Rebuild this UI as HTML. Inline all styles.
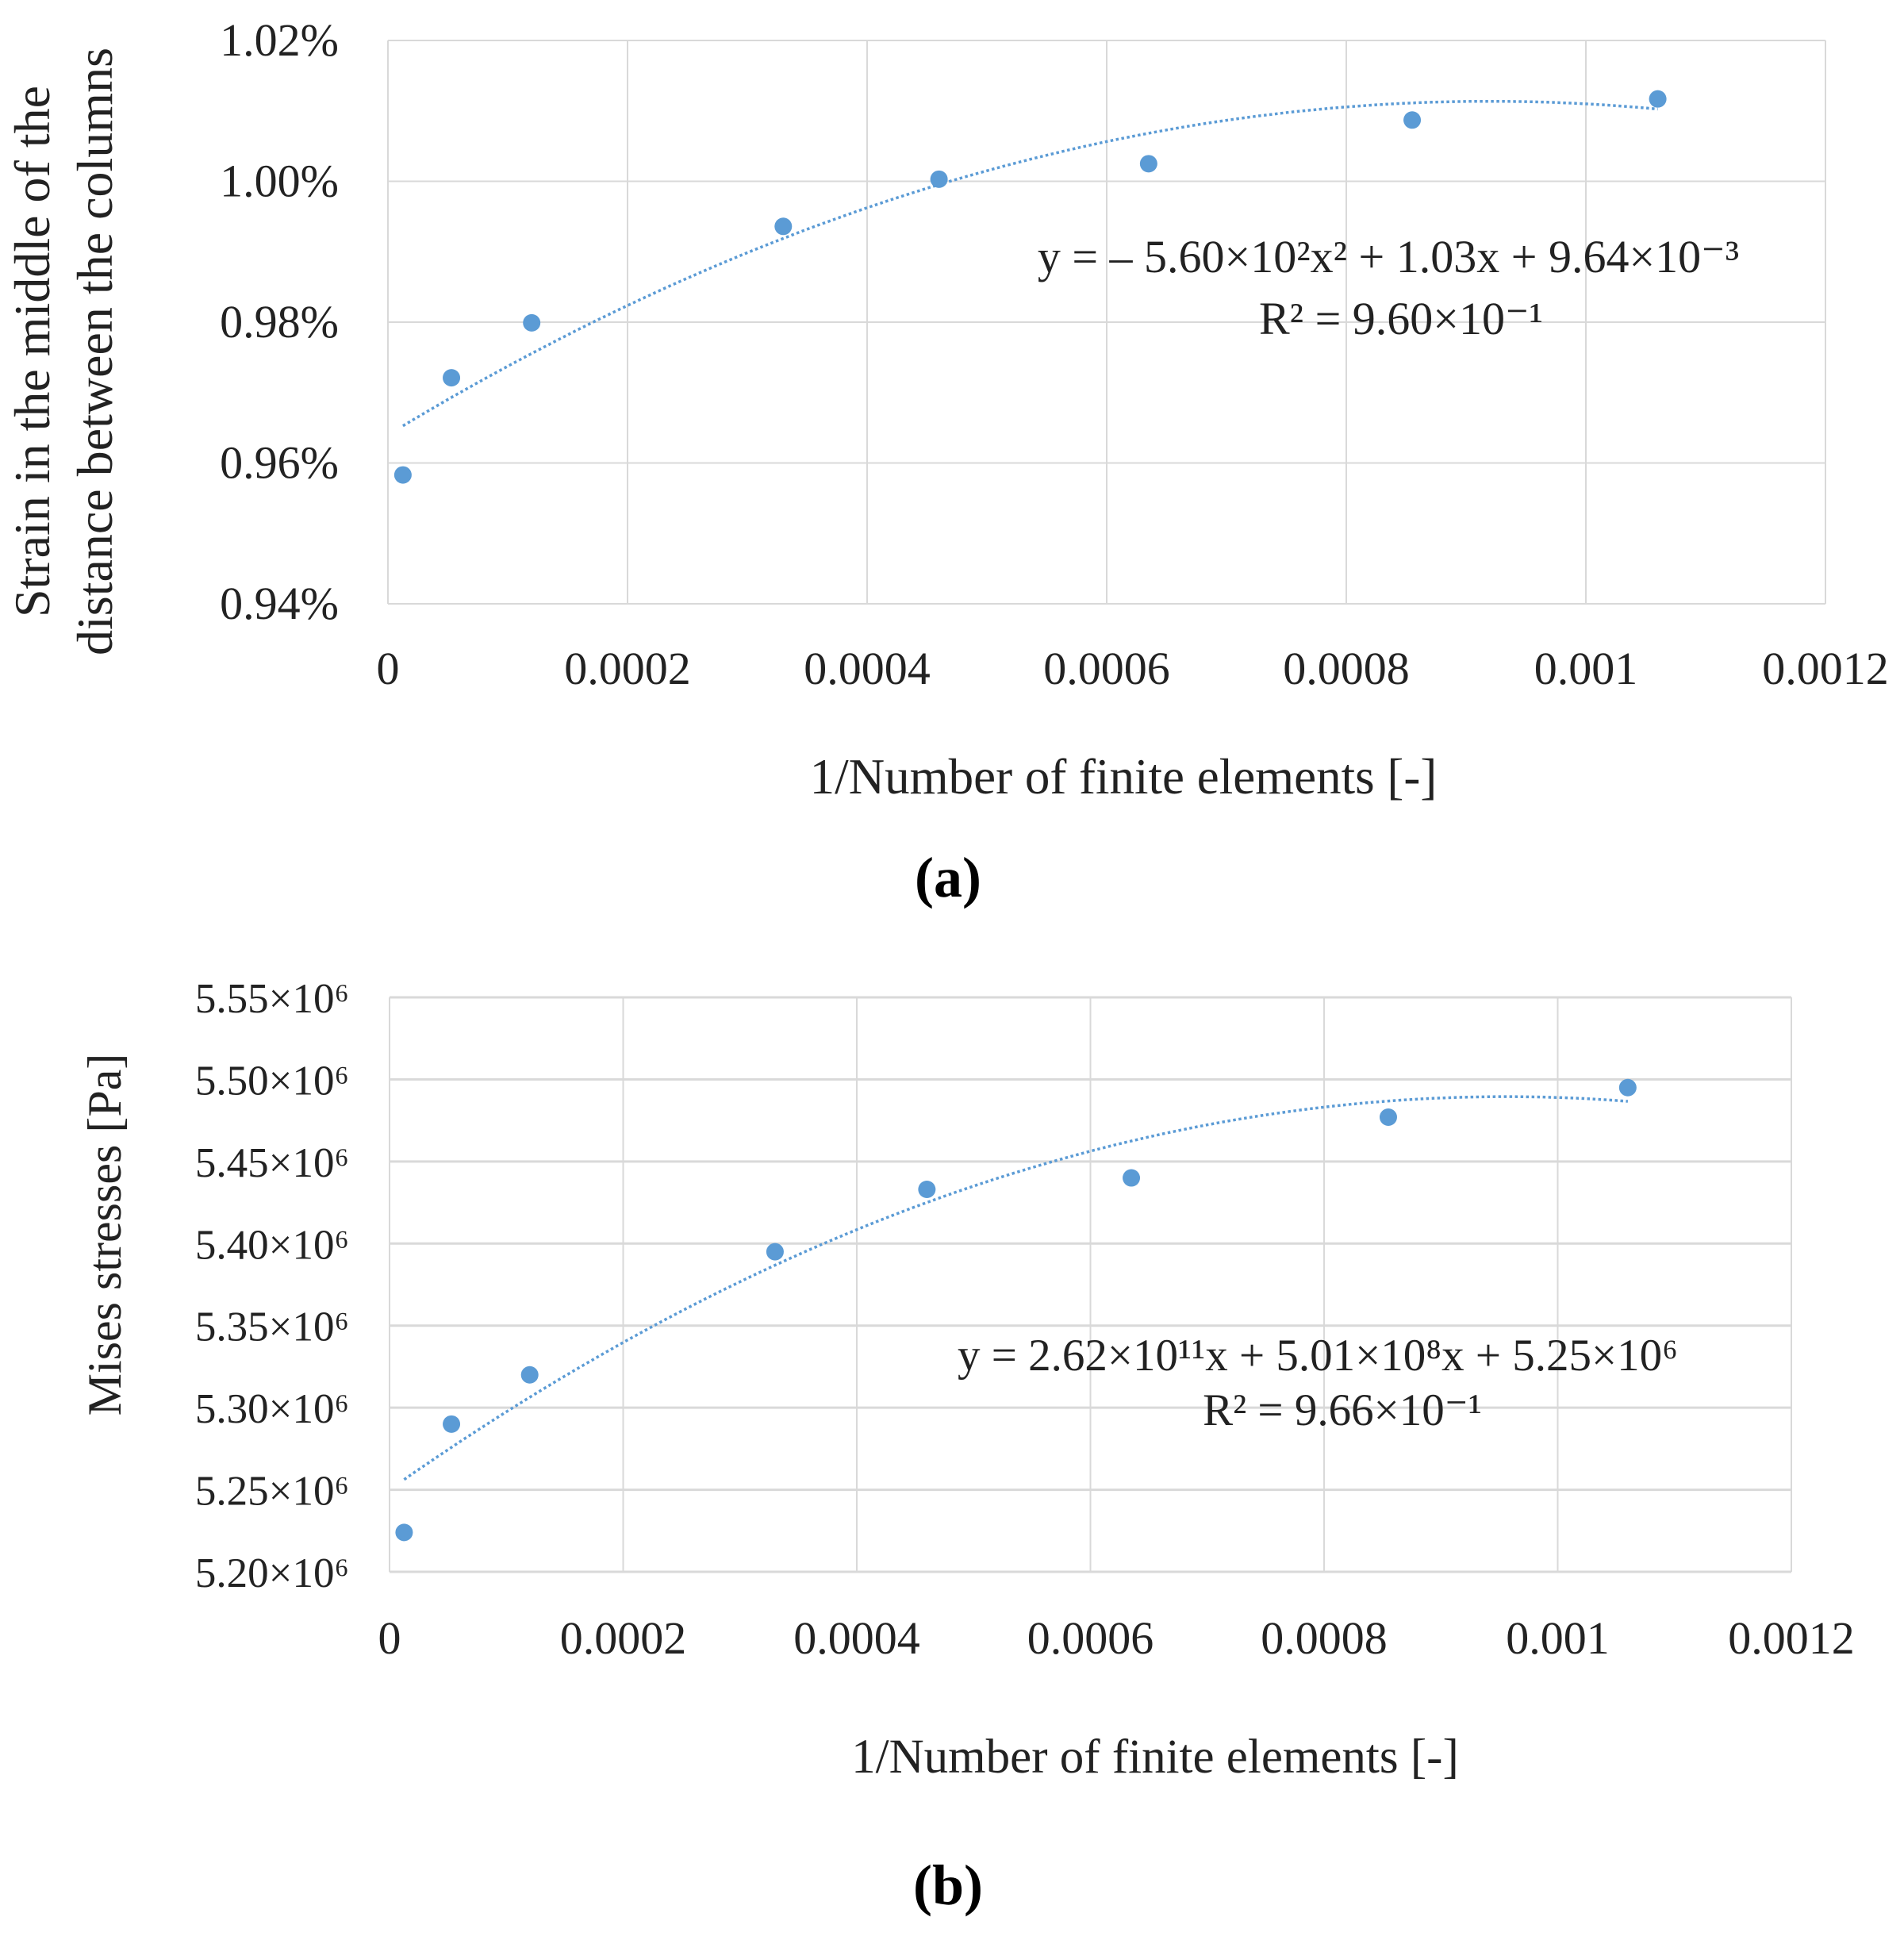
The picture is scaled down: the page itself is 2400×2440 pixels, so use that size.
<!DOCTYPE html>
<html><head><meta charset="utf-8"><style>
html,body{margin:0;padding:0;background:#fff;}
svg{display:block;font-family:"Liberation Serif",serif;}
</style></head><body>
<svg id="fig" width="2400" height="2440" viewBox="0 0 2400 2440" xmlns="http://www.w3.org/2000/svg">
<g id="ga"></g>
<g id="gb"></g>
<text x="1195" y="1130" font-size="72" font-weight="bold" text-anchor="middle">(a)</text>
<text x="1195" y="2400" font-size="72" font-weight="bold" text-anchor="middle">(b)</text>
</svg>
<script>
const xVals = [0.0000125, 0.000053, 0.00012, 0.00033, 0.00046, 0.000635, 0.000855, 0.00106];
const xTicks = [0, 0.0002, 0.0004, 0.0006, 0.0008, 0.001, 0.0012];
const xTickLabels = ["0","0.0002","0.0004","0.0006","0.0008","0.001","0.0012"];
const strainVals = [0.9583, 0.9721, 0.9799, 0.9936, 1.0003, 1.0025, 1.0087, 1.0117];
const strainTicks = [0.94, 0.96, 0.98, 1.00, 1.02];
const strainTickLabels = ["0.94%","0.96%","0.98%","1.00%","1.02%"];
const strainCoef = [-5.60e2, 1.03, 9.64e-3];
const stressVals = [5.224e6, 5.290e6, 5.320e6, 5.395e6, 5.433e6, 5.440e6, 5.477e6, 5.495e6];
const stressTicks = [5.20e6, 5.25e6, 5.30e6, 5.35e6, 5.40e6, 5.45e6, 5.50e6, 5.55e6];
const stressTickLabels = ["5.20×10⁶","5.25×10⁶","5.30×10⁶","5.35×10⁶","5.40×10⁶","5.45×10⁶","5.50×10⁶","5.55×10⁶"];
const stressCoef = [-2.62e11, 5.01e8, 5.25e6];

const NS = "http://www.w3.org/2000/svg";
function mk(parent, tag, attrs, text){
  const e = document.createElementNS(NS, tag);
  for (const k in attrs) e.setAttribute(k, attrs[k]);
  if (text !== undefined) e.textContent = text;
  parent.appendChild(e);
  return e;
}
function drawChart(g, cfg){
  const {L,R,T,B,ymin,ymax,yVals,yTicks,yLabels,coef,yScaleFn,hGridW} = cfg;
  const sx = v => L + (v - 0) / 0.0012 * (R - L);
  const sy = v => B - (v - ymin) / (ymax - ymin) * (B - T);
  xTicks.forEach((t,i) => {
    const l = mk(g,'line',{x1:sx(t),x2:sx(t),y1:T,y2:B,stroke:'#d9d9d9','stroke-width':2});
    
    
    const tx = mk(g,'text',{x:sx(t),y:cfg.xLabY,'font-size':58,'text-anchor':'middle',fill:'#222'},xTickLabels[i]);
    
    
  });
  yTicks.forEach((t,i) => {
    const l = mk(g,'line',{x1:L,x2:R,y1:sy(t),y2:sy(t),stroke:'#d9d9d9','stroke-width':hGridW});
    
    
    const tx = mk(g,'text',{x:cfg.yLabX,y:sy(t)+19,'font-size':cfg.yFont,'text-anchor':'end',fill:'#222'},yLabels[i]);
    
    
  });
  let d = '';
  const x0 = xVals[0], x1 = xVals[xVals.length-1];
  for (let k=0;k<=100;k++){
    const x = x0 + (x1-x0)*k/100;
    const y = yScaleFn(coef[0]*x*x + coef[1]*x + coef[2]);
    d += (k?'L':'M') + sx(x).toFixed(1) + ',' + sy(y).toFixed(1);
  }
  const p = mk(g,'path',{d:d,fill:'none',stroke:'#5b9bd5','stroke-width':3.5,'stroke-dasharray':'3.5 3.5'});
  
  
  xVals.forEach((x,i) => {
    const c = mk(g,'circle',{cx:sx(x),cy:sy(yVals[i]),r:11,fill:'#5b9bd5'});
    
    
  });
}
const ga = document.getElementById('ga');
drawChart(ga,{L:489,R:2301,T:51,B:761,ymin:0.94,ymax:1.02,yVals:strainVals,yTicks:strainTicks,yLabels:strainTickLabels,coef:strainCoef,yScaleFn:v=>v*100,hGridW:2,xLabY:862,yLabX:427,yFont:58});
const gb = document.getElementById('gb');
drawChart(gb,{L:491,R:2258,T:1257,B:1981,ymin:5.20e6,ymax:5.55e6,yVals:stressVals,yTicks:stressTicks,yLabels:stressTickLabels,coef:stressCoef,yScaleFn:v=>v,hGridW:3,xLabY:2084,yLabX:440,yFont:53});

const t1 = mk(ga,'text',{x:1416,y:1000,'font-size':63,'text-anchor':'middle',fill:'#222'},'1/Number of finite elements [-]');


const ya1 = mk(ga,'text',{transform:'translate(62,443) rotate(-90)','font-size':64,'text-anchor':'middle',fill:'#222'},'Strain in the middle of the');


const ya2 = mk(ga,'text',{transform:'translate(141,443) rotate(-90)','font-size':64,'text-anchor':'middle',fill:'#222'},'distance between the columns');


const ea = mk(ga,'text',{x:1750,y:343,'font-size':58,'text-anchor':'middle',fill:'#222'},'y =  – 5.60×10²x² + 1.03x + 9.64×10⁻³');


const ra = mk(ga,'text',{x:1766,y:421,'font-size':58,'text-anchor':'middle',fill:'#222'},'R² = 9.60×10⁻¹');



const t2 = mk(gb,'text',{x:1456,y:2234,'font-size':61,'text-anchor':'middle',fill:'#222'},'1/Number of finite elements [-]');


const yb = mk(gb,'text',{transform:'translate(152,1556) rotate(-90)','font-size':60,'text-anchor':'middle',fill:'#222'},'Mises stresses [Pa]');


const eb = mk(gb,'text',{x:1661,y:1727,'font-size':57,'text-anchor':'middle',fill:'#222'},'y =  2.62×10¹¹x + 5.01×10⁸x + 5.25×10⁶');


const rb = mk(gb,'text',{x:1692,y:1796,'font-size':57,'text-anchor':'middle',fill:'#222'},'R² = 9.66×10⁻¹');


</script>
</body></html>
